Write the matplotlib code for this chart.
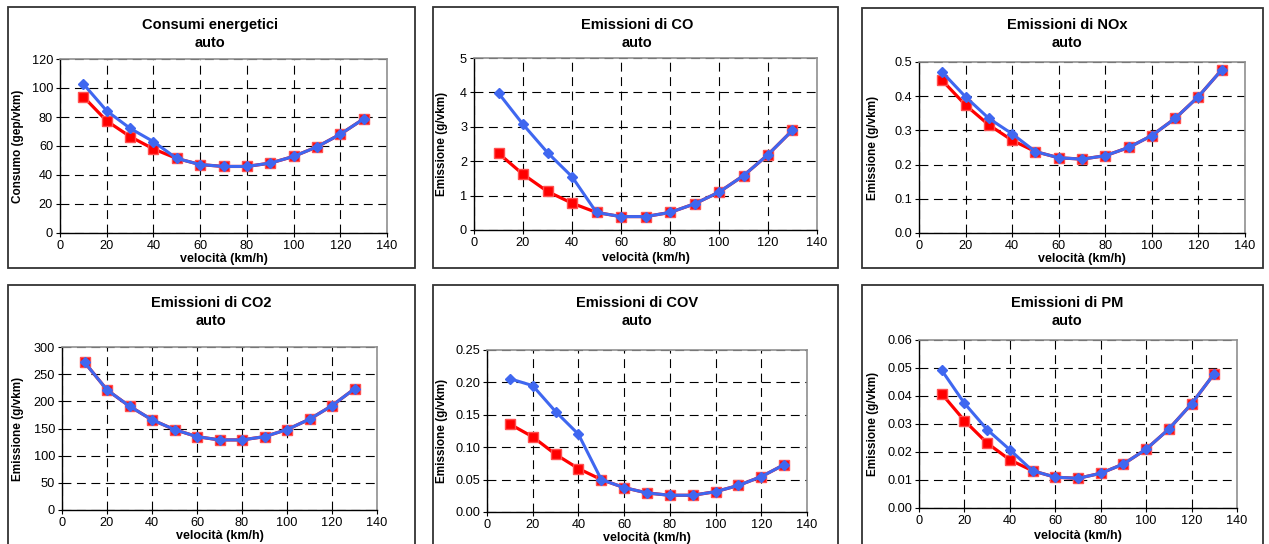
import matplotlib.pyplot as plt
from matplotlib.patches import Rectangle
from matplotlib.ticker import FormatStrFormatter

plt.rcParams['font.family'] = ['Liberation Sans', 'DejaVu Sans']

speed = [10, 20, 30, 40, 50, 60, 70, 80, 90, 100, 110, 120, 130]

cons_red = [94, 77.3, 66.5, 58, 51.4, 47.2, 45.9, 45.9, 48.2, 52.8, 59.4, 68.1, 78.7]
cons_blue = [102.8, 84.2, 72.2, 63, 51.4, 47.2, 45.9, 45.9, 48.2, 52.8, 59.4, 68.1, 78.7]

co_red = [2.23, 1.62, 1.12, 0.78, 0.51, 0.39, 0.39, 0.51, 0.76, 1.10, 1.58, 2.19, 2.90]
co_blue = [3.98, 3.07, 2.25, 1.55, 0.51, 0.39, 0.39, 0.51, 0.76, 1.10, 1.58, 2.19, 2.90]

nox_red = [0.446, 0.374, 0.316, 0.271, 0.238, 0.220, 0.216, 0.226, 0.250, 0.285, 0.335, 0.399, 0.477]
nox_blue = [0.470, 0.398, 0.335, 0.290, 0.238, 0.220, 0.216, 0.226, 0.250, 0.285, 0.335, 0.399, 0.477]

co2_red = [272, 221, 191, 166, 148, 135, 129, 129, 135, 148, 167, 192, 223]
co2_blue = [272, 221, 191, 166, 148, 135, 129, 129, 135, 148, 167, 192, 223]

cov_red = [0.1356, 0.116, 0.089, 0.067, 0.050, 0.0376, 0.0294, 0.0258, 0.0258, 0.0314, 0.041, 0.0546, 0.073]
cov_blue = [0.2057, 0.195, 0.155, 0.120, 0.050, 0.0376, 0.0294, 0.0258, 0.0258, 0.0314, 0.041, 0.0546, 0.073]

pm_red = [0.0408, 0.0312, 0.0232, 0.0172, 0.0133, 0.011, 0.0106, 0.0124, 0.0157, 0.021, 0.0282, 0.0372, 0.048]
pm_blue = [0.0492, 0.0374, 0.028, 0.0208, 0.0133, 0.011, 0.0106, 0.0124, 0.0157, 0.021, 0.0282, 0.0372, 0.048]

titles = ['Consumi energetici\nauto', 'Emissioni di CO\nauto', 'Emissioni di NOx\nauto',
          'Emissioni di CO2\nauto', 'Emissioni di COV\nauto', 'Emissioni di PM\nauto']
ylabels = ['Consumo (gep/vkm)', 'Emissione (g/vkm)', 'Emissione (g/vkm)',
           'Emissione (g/vkm)', 'Emissione (g/vkm)', 'Emissione (g/vkm)']
yticks = [[0, 20, 40, 60, 80, 100, 120],
          [0, 1, 2, 3, 4, 5],
          [0.0, 0.1, 0.2, 0.3, 0.4, 0.5],
          [0, 50, 100, 150, 200, 250, 300],
          [0.00, 0.05, 0.10, 0.15, 0.20, 0.25],
          [0.00, 0.01, 0.02, 0.03, 0.04, 0.05, 0.06]]
yfmt = ['%d', '%d', '%.1f', '%d', '%.2f', '%.2f']
series = [(cons_red, cons_blue), (co_red, co_blue), (nox_red, nox_blue),
          (co2_red, co2_blue), (cov_red, cov_blue), (pm_red, pm_blue)]

W, H = 1269, 544
fig = plt.figure(figsize=(W / 100, H / 100), dpi=100)

# pixel boxes: plot area, outer frame, title centre, y-label x
plots = [(60, 59, 387, 233), (474, 58, 817, 230), (919, 62, 1245, 233),
         (62, 347, 377, 510), (487, 350, 807, 512), (919, 340, 1237, 508)]
frames = [(8, 7, 415, 268), (433, 7, 838, 268), (862, 8, 1263, 268),
          (8, 285, 415, 552), (433, 285, 838, 552), (862, 285, 1263, 552)]
title_pos = [(210, 34), (637, 34), (1067, 34), (211, 312), (637, 312), (1067, 312)]
ylab_x = [18, 442, 873, 18, 442, 873]
xlab_y = [260, 259, 260, 537, 538, 536]

blue = '#3F67F0'
red = '#FF0000'

for i in range(6):
    l, t, r, b = frames[i]
    fig.add_artist(Rectangle((l / W, 1 - b / H), (r - l) / W, (b - t) / H,
                             transform=fig.transFigure, fill=False,
                             edgecolor='#333333', linewidth=1.3))

    l, t, r, b = plots[i]
    ax = fig.add_axes([l / W, 1 - b / H, (r - l) / W, (b - t) / H])
    red_vals, blue_vals = series[i]
    ax.plot(speed, red_vals, color=red, linewidth=2.3, marker='s', markersize=6.5,
            markerfacecolor=red, markeredgecolor='#FF5050', zorder=3)
    ax.plot(speed, blue_vals, color=blue, linewidth=2.2, marker='D', markersize=5,
            markerfacecolor=blue, markeredgecolor=blue, zorder=4)

    ax.set_xlim(0, 140)
    ax.set_xticks(range(0, 141, 20))
    ax.set_ylim(yticks[i][0], yticks[i][-1])
    ax.set_yticks(yticks[i])
    ax.yaxis.set_major_formatter(FormatStrFormatter(yfmt[i]))
    ax.tick_params(direction='out', length=3, width=0.8, labelsize=9.2, pad=2)

    ax.set_axisbelow(True)
    ax.grid(True, color='black', linestyle=(0, (8, 5)), linewidth=0.8)
    for side in ['left', 'bottom']:
        ax.spines[side].set_color('black')
        ax.spines[side].set_linewidth(1.0)
    for side in ['top', 'right']:
        ax.spines[side].set_color('#909090')
        ax.spines[side].set_linewidth(1.2)

    ax.set_xlabel('velocità (km/h)', fontsize=9, fontweight='bold')
    ax.xaxis.set_label_coords(0.5, (b - xlab_y[i]) / (b - t) + 6.5 / (b - t))
    ax.set_ylabel(ylabels[i], fontsize=8.5, fontweight='bold')
    ax.yaxis.set_label_coords((ylab_x[i] + 6 - l) / (r - l), 0.5)

    fig.text(title_pos[i][0] / W, 1 - title_pos[i][1] / H, titles[i],
             ha='center', va='center', fontsize=10.5, fontweight='bold',
             linespacing=1.3)

fig.savefig('out.png', dpi=100)
